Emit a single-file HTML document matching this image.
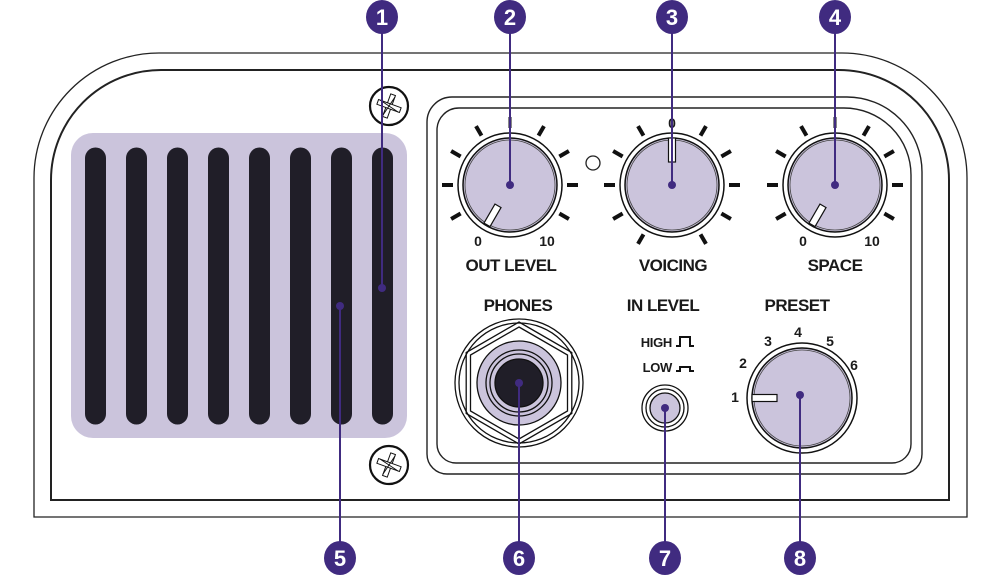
<!DOCTYPE html>
<html><head><meta charset="utf-8"><style>
html,body{margin:0;padding:0;background:#fff;}
svg{display:block;}
text{font-family:"Liberation Sans",sans-serif;font-weight:bold;fill:#1a1a1a;}
</style></head><body>
<svg width="1000" height="577" viewBox="0 0 1000 577" xmlns="http://www.w3.org/2000/svg">
<defs>
<g id="screw">
<circle r="19" fill="#fff" stroke="#111" stroke-width="2.2"/>
<g fill="#fff" stroke="#111" stroke-width="1">
<rect x="-2.5" y="-12" width="5" height="24" transform="rotate(20)"/>
<rect x="-2.5" y="-12" width="5" height="24" transform="rotate(-70)"/>
</g>
<g fill="none" stroke="#111" stroke-width="1">
<line x1="-9" y1="-6" x2="9" y2="6"/>
<line x1="-6" y1="9" x2="6" y2="-9"/>
</g>
</g>
</defs>
<!-- body -->
<path d="M34,517 L34,178 A125,125 0 0 1 159,53 L842,53 A125,125 0 0 1 967,178 L967,517 Z" fill="none" stroke="#222" stroke-width="1.3"/>
<path d="M51,500 L51,180 A110,110 0 0 1 161,70 L839,70 A110,110 0 0 1 949,180 L949,500 Z" fill="none" stroke="#222" stroke-width="2"/>
<!-- panel -->
<path d="M427,454 L427,122 A25,25 0 0 1 452,97 L847,97 A75,75 0 0 1 922,172 L922,454 A20,20 0 0 1 902,474 L447,474 A20,20 0 0 1 427,454 Z" fill="none" stroke="#222" stroke-width="1.4"/>
<path d="M437,444 L437,130 A22,22 0 0 1 459,108 L844,108 A67,67 0 0 1 911,175 L911,444 A19,19 0 0 1 892,463 L456,463 A19,19 0 0 1 437,444 Z" fill="none" stroke="#222" stroke-width="1.4"/>
<!-- grille -->
<rect x="71" y="133" width="336" height="305" rx="22" fill="#cbc4dc"/>
<g stroke="#201e28" stroke-width="21" stroke-linecap="round">
<line x1="95.5" y1="158" x2="95.5" y2="414"/>
<line x1="136.5" y1="158" x2="136.5" y2="414"/>
<line x1="177.5" y1="158" x2="177.5" y2="414"/>
<line x1="218.5" y1="158" x2="218.5" y2="414"/>
<line x1="259.5" y1="158" x2="259.5" y2="414"/>
<line x1="300.5" y1="158" x2="300.5" y2="414"/>
<line x1="341.5" y1="158" x2="341.5" y2="414"/>
<line x1="382.5" y1="158" x2="382.5" y2="414"/>
</g>
<use href="#screw" x="389" y="106"/>
<use href="#screw" x="389" y="465"/>
<!-- LED -->
<circle cx="593" cy="163" r="7" fill="#fff" stroke="#222" stroke-width="1.3"/>
<!-- OUT LEVEL knob -->
<g transform="translate(510,185)">
<g stroke="#111" stroke-width="4">
<line x1="0" y1="-57" x2="0" y2="-68" stroke-width="3"/>
<line x1="0" y1="-57" x2="0" y2="-68" transform="rotate(30)"/>
<line x1="0" y1="-57" x2="0" y2="-68" transform="rotate(60)"/>
<line x1="0" y1="-57" x2="0" y2="-68" transform="rotate(90)"/>
<line x1="0" y1="-57" x2="0" y2="-68" transform="rotate(120)"/>
<line x1="0" y1="-57" x2="0" y2="-68" transform="rotate(-30)"/>
<line x1="0" y1="-57" x2="0" y2="-68" transform="rotate(-60)"/>
<line x1="0" y1="-57" x2="0" y2="-68" transform="rotate(-90)"/>
<line x1="0" y1="-57" x2="0" y2="-68" transform="rotate(-120)"/>
</g>
<circle r="52" fill="#fff" stroke="#111" stroke-width="1.5"/>
<circle r="47" fill="#cbc4dc" stroke="#111" stroke-width="1.5"/>
<circle r="45" fill="none" stroke="#444" stroke-width="0.8"/>
<rect x="-3.5" y="-46" width="7" height="22" fill="#fff" stroke="#111" stroke-width="1.2" transform="rotate(-150)"/>
</g>
<text x="478" y="246" font-size="14" text-anchor="middle">0</text>
<text x="547" y="246" font-size="14" text-anchor="middle">10</text>
<text x="511" y="271" font-size="17" text-anchor="middle" letter-spacing="-0.5">OUT LEVEL</text>
<!-- VOICING knob -->
<g transform="translate(672,185)">
<g stroke="#111" stroke-width="4">
<line x1="0" y1="-57" x2="0" y2="-68" transform="rotate(30)"/>
<line x1="0" y1="-57" x2="0" y2="-68" transform="rotate(60)"/>
<line x1="0" y1="-57" x2="0" y2="-68" transform="rotate(90)"/>
<line x1="0" y1="-57" x2="0" y2="-68" transform="rotate(120)"/>
<line x1="0" y1="-57" x2="0" y2="-68" transform="rotate(150)"/>
<line x1="0" y1="-57" x2="0" y2="-68" transform="rotate(-30)"/>
<line x1="0" y1="-57" x2="0" y2="-68" transform="rotate(-60)"/>
<line x1="0" y1="-57" x2="0" y2="-68" transform="rotate(-90)"/>
<line x1="0" y1="-57" x2="0" y2="-68" transform="rotate(-120)"/>
<line x1="0" y1="-57" x2="0" y2="-68" transform="rotate(-150)"/>
</g>
<circle r="52" fill="#fff" stroke="#111" stroke-width="1.5"/>
<circle r="47" fill="#cbc4dc" stroke="#111" stroke-width="1.5"/>
<circle r="45" fill="none" stroke="#444" stroke-width="0.8"/>
<rect x="-3.5" y="-47" width="7" height="24" fill="#fff" stroke="#111" stroke-width="1.2"/>
</g>
<text x="672" y="128" font-size="14" text-anchor="middle">0</text>
<text x="673" y="271" font-size="17" text-anchor="middle" letter-spacing="-0.5">VOICING</text>
<!-- SPACE knob -->
<g transform="translate(835,185)">
<g stroke="#111" stroke-width="4">
<line x1="0" y1="-57" x2="0" y2="-68" stroke-width="3"/>
<line x1="0" y1="-57" x2="0" y2="-68" transform="rotate(30)"/>
<line x1="0" y1="-57" x2="0" y2="-68" transform="rotate(60)"/>
<line x1="0" y1="-57" x2="0" y2="-68" transform="rotate(90)"/>
<line x1="0" y1="-57" x2="0" y2="-68" transform="rotate(120)"/>
<line x1="0" y1="-57" x2="0" y2="-68" transform="rotate(-30)"/>
<line x1="0" y1="-57" x2="0" y2="-68" transform="rotate(-60)"/>
<line x1="0" y1="-57" x2="0" y2="-68" transform="rotate(-90)"/>
<line x1="0" y1="-57" x2="0" y2="-68" transform="rotate(-120)"/>
</g>
<circle r="52" fill="#fff" stroke="#111" stroke-width="1.5"/>
<circle r="47" fill="#cbc4dc" stroke="#111" stroke-width="1.5"/>
<circle r="45" fill="none" stroke="#444" stroke-width="0.8"/>
<rect x="-3.5" y="-46" width="7" height="22" fill="#fff" stroke="#111" stroke-width="1.2" transform="rotate(-150)"/>
</g>
<text x="803" y="246" font-size="14" text-anchor="middle">0</text>
<text x="872" y="246" font-size="14" text-anchor="middle">10</text>
<text x="835" y="271" font-size="17" text-anchor="middle" letter-spacing="-0.5">SPACE</text>
<!-- PHONES -->
<text x="518" y="311" font-size="17" text-anchor="middle" letter-spacing="-0.5">PHONES</text>
<g transform="translate(519,383)" fill="none" stroke="#111" stroke-width="1.3">
<circle r="64"/>
<circle r="60"/>
<polygon points="0,-61 52.8,-30.5 52.8,30.5 0,61 -52.8,30.5 -52.8,-30.5"/>
<polygon points="0,-56 48.5,-28 48.5,28 0,56 -48.5,28 -48.5,-28"/>
<circle r="42" fill="#cbc4dc"/>
<circle r="33"/>
<circle r="29"/>
<circle r="24" fill="#201e28"/>
</g>
<!-- IN LEVEL -->
<text x="663" y="311" font-size="17" text-anchor="middle" letter-spacing="-0.5">IN LEVEL</text>
<text x="672" y="347" font-size="13" text-anchor="end" letter-spacing="-0.3">HIGH</text>
<text x="672" y="372" font-size="13" text-anchor="end" letter-spacing="-0.3">LOW</text>
<path d="M676,346 L680,346 L680,337 L690,337 L690,346 L694,346" fill="none" stroke="#111" stroke-width="2"/>
<path d="M676,371 L680,371 L680,367 L690,367 L690,371 L694,371" fill="none" stroke="#111" stroke-width="2"/>
<g transform="translate(665,408)" fill="none" stroke="#111" stroke-width="1.3">
<circle r="23" fill="#fff"/>
<circle r="19"/>
<circle r="15" fill="#cbc4dc"/>
</g>
<!-- PRESET -->
<text x="797" y="311" font-size="17" text-anchor="middle" letter-spacing="-0.5">PRESET</text>
<g font-size="14" text-anchor="middle">
<text x="735" y="402">1</text>
<text x="743" y="368">2</text>
<text x="768" y="346">3</text>
<text x="798" y="337">4</text>
<text x="830" y="346">5</text>
<text x="854" y="370">6</text>
</g>
<g transform="translate(802,398)">
<circle r="55" fill="#fff" stroke="#111" stroke-width="1.5"/>
<circle r="50" fill="#cbc4dc" stroke="#111" stroke-width="1.5"/>
<circle r="48" fill="none" stroke="#444" stroke-width="0.8"/>
<rect x="-50" y="-3.5" width="25" height="7" fill="#fff" stroke="#111" stroke-width="1.2"/>
</g>
<!-- callouts -->
<g stroke="#402b80" stroke-width="2">
<line x1="382" y1="17" x2="382" y2="288"/>
<line x1="510" y1="17" x2="510" y2="185"/>
<line x1="672" y1="17" x2="672" y2="185"/>
<line x1="835" y1="17" x2="835" y2="185"/>
<line x1="340" y1="306" x2="340" y2="558"/>
<line x1="519" y1="383" x2="519" y2="558"/>
<line x1="665" y1="408" x2="665" y2="558"/>
<line x1="800" y1="395" x2="800" y2="558"/>
</g>
<g fill="#402b80">
<circle cx="382" cy="288" r="4"/>
<circle cx="510" cy="185" r="4"/>
<circle cx="672" cy="185" r="4"/>
<circle cx="835" cy="185" r="4"/>
<circle cx="340" cy="306" r="4"/>
<circle cx="519" cy="383" r="4"/>
<circle cx="665" cy="408" r="4"/>
<circle cx="800" cy="395" r="4"/>
<ellipse cx="382" cy="17" rx="16" ry="17"/>
<ellipse cx="510" cy="17" rx="16" ry="17"/>
<ellipse cx="672" cy="17" rx="16" ry="17"/>
<ellipse cx="835" cy="17" rx="16" ry="17"/>
<ellipse cx="340" cy="558" rx="16" ry="17"/>
<ellipse cx="519" cy="558" rx="16" ry="17"/>
<ellipse cx="665" cy="558" rx="16" ry="17"/>
<ellipse cx="800" cy="558" rx="16" ry="17"/>
</g>
<g font-size="22" text-anchor="middle">
<text x="382" y="25" style="fill:#fff">1</text>
<text x="510" y="25" style="fill:#fff">2</text>
<text x="672" y="25" style="fill:#fff">3</text>
<text x="835" y="25" style="fill:#fff">4</text>
<text x="340" y="566" style="fill:#fff">5</text>
<text x="519" y="566" style="fill:#fff">6</text>
<text x="665" y="566" style="fill:#fff">7</text>
<text x="800" y="566" style="fill:#fff">8</text>
</g>
</svg>
</body></html>
